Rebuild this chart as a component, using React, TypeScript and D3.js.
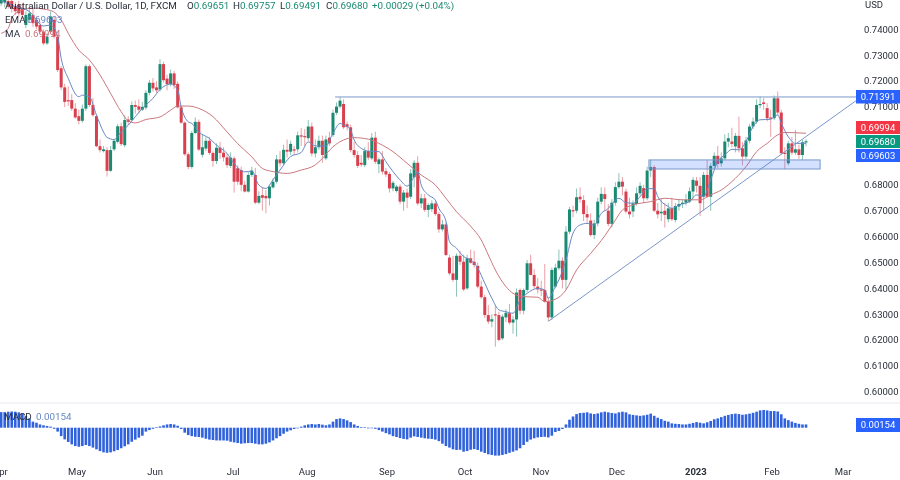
import React from "react";
import * as d3 from "d3";

// Prices in pips (1/10000), one entry per trading day from April 2022 to February 2023.
const opens = [
7500,7505,7510,7510,7490,7495,7482,7417,7437,7456,
7437,7417,7391,7346,7391,7437,7372,7250,7176,7127,
7127,7094,7065,7047,7094,7258,7108,7065,6949,6930,
6934,6854,6937,6966,7026,6953,7052,7050,7108,7103,
7090,7098,7155,7194,7176,7168,7266,7210,7189,7230,
7190,7099,7040,6918,6869,7000,7043,6916,6940,6970,
6923,6892,6943,6924,6906,6873,6902,6864,6857,6800,
6774,6838,6838,6731,6760,6757,6748,6790,6812,6898,
6883,6935,6928,6937,6937,6991,6988,6980,7025,6921,
6945,6970,6902,6982,6992,7078,7102,7112,7034,7022,
6934,6915,6885,6876,6930,6902,6982,6880,6898,6853,
6842,6786,6776,6793,6735,6770,6754,6829,6885,6728,
6748,6703,6706,6728,6687,6628,6647,6519,6458,6433,
6526,6503,6400,6516,6503,6487,6407,6366,6297,6272,
6300,6297,6207,6288,6304,6268,6280,6394,6314,6394,
6497,6452,6407,6396,6394,6349,6288,6407,6478,6507,
6433,6619,6702,6700,6754,6741,6687,6662,6606,6651,
6735,6764,6700,6649,6731,6791,6812,6774,6697,6697,
6726,6767,6787,6748,6855,6868,6700,6690,6700,6667,
6709,6664,6716,6726,6731,6735,6774,6816,6796,6754,
6838,6754,6873,6912,6883,6902,6967,6967,6948,6989,
6941,6909,6970,7025,7044,7108,7118,7096,7060,7057,
7134,7079,6924,6883,6960,6924,6937,6915,6965];
const highs = [
7540,7540,7525,7525,7505,7510,7495,7470,7478,7480,
7450,7430,7400,7385,7470,7450,7380,7258,7190,7180,
7150,7115,7090,7110,7265,7265,7135,7070,6975,6950,
6945,6950,6975,7035,7040,7068,7065,7122,7125,7130,
7120,7165,7205,7212,7200,7285,7275,7225,7245,7240,
7200,7105,7045,6925,7008,7060,7052,6995,6985,6985,
6930,6960,6965,6945,6920,6925,6910,6875,6870,6815,
6850,6870,6865,6775,6790,6780,6800,6825,6915,6930,
6955,6975,6970,6950,7005,7020,7015,7050,7040,6975,
6990,6990,6990,7005,7090,7118,7139,7130,7045,7032,
6965,6930,6915,6945,6965,7000,7005,6905,6930,6865,
6850,6815,6800,6802,6780,6785,6860,6895,6910,6765,
6765,6730,6740,6740,6695,6665,6655,6530,6525,6535,
6545,6530,6530,6550,6545,6500,6430,6375,6335,6300,
6335,6310,6300,6320,6340,6295,6400,6400,6400,6510,
6530,6475,6440,6430,6494,6365,6480,6495,6550,6520,
6640,6715,6720,6785,6790,6760,6720,6690,6665,6750,
6790,6790,6725,6745,6810,6845,6830,6785,6750,6740,
6790,6810,6800,6870,6896,6875,6730,6745,6730,6730,
6750,6730,6745,6745,6765,6790,6830,6830,6830,6850,
6895,6885,6925,6950,6925,6995,7000,7020,7000,7063,
6965,6985,7035,7060,7130,7140,7135,7115,7090,7145,
7160,7090,6945,6970,6985,7012,6955,6975,6976];
const lows = [
7490,7485,7480,7465,7455,7450,7440,7405,7425,7410,
7400,7380,7340,7340,7385,7365,7235,7165,7100,7105,
7085,7055,7033,7040,7085,7100,7063,6945,6925,6925,
6832,6850,6930,6960,6950,6945,7030,7045,7075,7075,
7085,7090,7145,7160,7155,7160,7195,7165,7180,7170,
7095,7035,6912,6860,6862,6995,6930,6905,6930,6915,
6870,6880,6900,6890,6865,6865,6770,6800,6775,6770,
6770,6830,6725,6725,6700,6690,6720,6785,6805,6870,
6875,6905,6915,6915,6925,6950,6950,6970,6910,6905,
6935,6885,6895,6950,6985,7070,7095,7015,7010,6925,
6905,6865,6870,6868,6895,6895,6880,6845,6840,6830,
6770,6775,6770,6725,6700,6710,6745,6790,6720,6710,
6695,6675,6695,6680,6615,6620,6525,6450,6425,6368,
6490,6390,6395,6495,6480,6400,6360,6285,6262,6250,
6175,6195,6200,6270,6260,6225,6214,6300,6300,6385,
6450,6400,6380,6370,6345,6273,6278,6400,6470,6400,
6395,6610,6675,6690,6730,6660,6650,6600,6590,6640,
6725,6700,6640,6635,6720,6785,6760,6690,6670,6675,
6720,6755,6730,6740,6830,6695,6670,6660,6635,6655,
6660,6655,6700,6710,6720,6730,6745,6770,6680,6700,
6750,6700,6860,6865,6870,6895,6945,6945,6925,6925,
6875,6900,6960,7015,7035,7095,7090,7045,6985,7050,
7070,6915,6860,6875,6915,6915,6900,6895,6949];
const closes = [
7520,7530,7490,7480,7470,7462,7456,7456,7462,7424,
7411,7391,7346,7372,7450,7372,7243,7176,7120,7122,
7094,7060,7047,7094,7258,7108,7069,6949,6934,6937,
6854,6934,6970,7026,6957,7050,7043,7108,7101,7090,
7101,7155,7194,7172,7165,7266,7204,7189,7230,7185,
7099,7040,6918,6869,7000,7043,6936,6945,6970,6923,
6892,6943,6923,6906,6876,6905,6812,6812,6800,6774,
6838,6855,6731,6757,6750,6748,6793,6812,6898,6883,
6935,6928,6958,6932,6991,6986,6984,7025,6921,6945,
6970,6915,6975,6960,7078,7102,7125,7022,7024,6934,
6915,6873,6878,6930,6905,6982,6889,6898,6851,6840,
6786,6808,6793,6735,6770,6750,6844,6885,6728,6748,
6703,6722,6728,6687,6628,6647,6529,6458,6433,6526,
6503,6396,6516,6499,6490,6407,6366,6297,6272,6281,
6297,6201,6291,6306,6268,6280,6384,6314,6394,6497,
6452,6409,6396,6394,6349,6288,6471,6480,6507,6433,
6619,6705,6698,6752,6744,6687,6674,6606,6651,6735,
6765,6745,6649,6731,6791,6812,6793,6697,6686,6729,
6767,6796,6748,6855,6868,6700,6686,6696,6684,6709,
6667,6718,6726,6731,6742,6775,6819,6796,6729,6838,
6754,6873,6912,6881,6902,6967,6980,6958,6989,6941,
6909,6971,7025,7044,7108,7112,7112,7057,7058,7134,
7079,6922,6919,6960,6924,6937,6915,6964,6968];

// EMA at selected bars.
const emaBars = [0,4,8,12,14,16,17,19,22,23,25,27,29,30,32,34,36,38,40,43,45,48,50,51,53,54,56,59,61,64,66,69,71,73,75,77,79,82,85,87,89,92,94,96,97,99,100,102,104,107,109,111,113,115,117,118,119,121,123,124,126,127,129,131,133,135,137,139,141,143,145,147,149,152,154,155,157,158,160,162,164,166,168,170,172,173,175,177,179,181,183,185,186,189,190,192,195,197,199,201,203,205,207,209,211,213,215,218,220,221,223,225,228];
const emaValues = [7510,7488,7469,7413,7417,7372,7288,7211,7140,7146,7140,7069,7004,6983,6975,7004,7030,7063,7095,7134,7168,7189,7166,7101,7043,7037,7004,6979,6953,6921,6882,6850,6853,6799,6786,6819,6857,6909,6925,6966,6950,6950,6999,7037,7031,7012,6973,6941,6930,6928,6889,6851,6819,6795,6831,6851,6799,6761,6741,6709,6660,6581,6555,6523,6510,6478,6420,6362,6317,6310,6304,6355,6381,6400,6394,6362,6407,6433,6510,6613,6645,6651,6645,6690,6709,6726,6748,6731,6729,6754,6785,6785,6755,6716,6709,6722,6735,6761,6755,6819,6890,6915,6937,6935,6967,7025,7051,7053,7070,7038,6985,6960,6960];

// Moving average at selected bars.
const maBars = [0,2,3,5,9,14,17,19,22,25,28,31,34,36,38,41,45,48,50,53,56,60,64,67,71,74,77,81,85,89,91,94,97,100,104,107,111,115,119,123,126,129,133,136,138,140,143,145,148,152,154,157,160,163,167,171,174,176,179,184,188,193,198,201,204,208,211,214,217,220,222,228];
const maValues = [7385,7404,7443,7469,7482,7473,7437,7385,7320,7282,7224,7153,7082,7047,7039,7052,7062,7088,7104,7104,7095,7063,7004,6959,6908,6863,6851,6844,6857,6877,6902,6947,6973,6982,6976,6960,6928,6883,6838,6799,6748,6696,6640,6587,6529,6471,6407,6381,6368,6366,6349,6358,6394,6471,6535,6603,6664,6703,6722,6735,6748,6742,6742,6761,6780,6825,6870,6928,6960,6993,7002,6999];

// MACD histogram in units of 0.0001, one entry per trading day.
const macdBars = [
72,72,74,75,74,71,65,55,43,28,
23,15,11,8,5,-5,-18,-39,-54,-66,
-77,-85,-88,-85,-80,-85,-92,-100,-108,-114,
-116,-114,-109,-103,-95,-86,-77,-65,-55,-46,
-37,-18,-11,-5,2,6,11,15,17,15,
9,-6,-23,-34,-39,-42,-43,-46,-51,-55,
-57,-59,-59,-59,-60,-65,-68,-71,-74,-72,
-71,-71,-74,-77,-77,-74,-68,-59,-49,-39,
-28,-18,-12,-6,-2,5,11,15,17,15,
17,14,11,15,28,40,43,40,34,26,
15,8,3,2,-3,-2,-5,-11,-18,-25,
-31,-39,-43,-48,-52,-54,-46,-40,-43,-46,
-49,-51,-52,-55,-62,-74,-85,-92,
-100,-103,-102,-111,-108,-102,-99,-103,-111,-117,-123,-126,-129,-129,-126,-122,-116,-111,-105,-95,-80,-65,-55,-49,-45,-43,-42,-45,-37,-20,-15,-6,15,37,52,63,68,69,71,66,63,66,71,74,71,68,66,71,74,71,62,59,57,55,57,60,65,55,46,40,32,28,20,18,17,15,15,18,22,26,23,20,25,31,39,43,49,55,59,63,65,63,60,62,65,69,74,80,82,80,77,77,75,62,43,35,28,22,18,15,15];

const monthLabels = ["Apr","May","Jun","Jul","Aug","Sep","Oct","Nov","Dec","2023","Feb","Mar"];
const monthBars = [-0.2,21.5,43.6,65.7,86.7,109.3,131.4,152.9,174.4,196.8,218.4,238.5];
// 0.70 and 0.69 sit behind the price badges in the picture.
const priceTicks = [0.74,0.73,0.72,0.71,0.68,0.67,0.66,0.65,0.64,0.63,0.62,0.61,0.60];

const resistance = 0.71391;
const trendBars = [155, 242.2];
const trendValues = [0.6273, 0.7125];
const zoneBars = [183.5, 232];
const zoneValues = [0.6896, 0.6861];
const lastClose = 0.6968, lastMa = 0.69994, lastEma = 0.69603, lastMacd = 0.00154;

const quote = [
  { t: "O0.69651", x: 187 }, { t: "H0.69757", x: 233 }, { t: "L0.69491", x: 280 },
  { t: "C0.69680", x: 326 }, { t: "+0.00029 (+0.04%)", x: 372 },
];

const UP = "#1b8a72", DOWN = "#d8404f", BLUE = "#2962ff", LINE = "#7a97c9";
const EMA_C = "#6688c4", MA_C = "#cc777e";
const FONT = "Roboto, 'Open Sans', sans-serif";
const INK = "#2a2e39";

const x = d3.scaleLinear().domain([0, 228]).range([1.16, 806]);
const y = d3.scaleLinear().domain([0.6, 0.74]).range([392, 29.4]);
const yM = d3.scaleLinear().domain([0, 0.0154]).range([427.7, 394.4]);
const pip = (p: number) => p / 10000;

const curve = (bars: number[], vals: number[]) =>
  d3.line<number>().x((d) => x(bars[d])).y((d) => y(pip(vals[d]))).curve(d3.curveMonotoneX)(d3.range(bars.length)) as string;

const Badge = ({ top, h, fill, label }: { top: number; h: number; fill: string; label: string }) => (
  <g>
    <rect x={856} y={top} width={44} height={h} fill={fill} />
    <text x={878} y={top + h / 2 + 3.2} textAnchor="middle" fill="#fff" fontSize={9.5} fontFamily={FONT}>{label}</text>
  </g>
);

export default function App() {
  const days = d3.range(opens.length);
  return (
    <svg width={900} height={480} style={{ position: "absolute", left: 0, top: 0, background: "#fff", filter: "blur(0.4px)" }}>
      <line x1={0} x2={900} y1={403} y2={403} stroke="#e6e8ee" />
      {priceTicks.map((t) => (
        <text key={t} x={864} y={y(t) + 3.2} fontSize={9.5} fill={INK} fontFamily={FONT}>{t.toFixed(5)}</text>
      ))}
      <text x={865} y={8} fontSize={9.5} fill={INK} fontFamily={FONT}>USD</text>

      {/* candles */}
      {days.map((i) => {
        const up = closes[i] >= opens[i];
        const c = up ? UP : DOWN;
        const top = y(pip(Math.max(opens[i], closes[i])));
        const bot = y(pip(Math.min(opens[i], closes[i])));
        return (
          <g key={i}>
            <line x1={x(i)} x2={x(i)} y1={y(pip(highs[i]))} y2={y(pip(lows[i]))} stroke={c} strokeOpacity={0.5} strokeWidth={1} />
            <rect x={x(i) - 1.5} width={3} y={top} height={Math.max(bot - top, 1.2)} fill={c} />
          </g>
        );
      })}

      <path d={curve(maBars, maValues)} fill="none" stroke={MA_C} strokeWidth={1} />
      <path d={curve(emaBars, emaValues)} fill="none" stroke={EMA_C} strokeWidth={1} />

      {/* drawings */}
      <line x1={x(94.6)} x2={857} y1={y(resistance)} y2={y(resistance)} stroke={LINE} strokeWidth={1} />
      <line x1={x(trendBars[0])} x2={x(trendBars[1])} y1={y(trendValues[0])} y2={y(trendValues[1])} stroke={LINE} strokeWidth={1} />
      <rect x={x(zoneBars[0])} width={x(zoneBars[1]) - x(zoneBars[0])} y={y(zoneValues[0])} height={y(zoneValues[1]) - y(zoneValues[0])}
        fill="#2962ff" fillOpacity={0.2} stroke={LINE} strokeWidth={1} />

      {/* MACD */}
      {macdBars.map((v, i) => {
        const val = v / 10000;
        return <rect key={i} x={x(i) - 1.3} width={2.6} y={Math.min(yM(val), yM(0))} height={Math.max(Math.abs(yM(val) - yM(0)), 0.6)} fill="#2f62dc" />;
      })}

      {/* legend */}
      <g fontFamily={FONT} fontSize={9.8}>
        <text x={5} y={9} fill={INK}>Australian Dollar / U.S. Dollar, 1D, FXCM</text>
        {quote.map((q) => (
          <text key={q.t} x={q.x} y={9} fill={UP}><tspan fill={INK}>{/^[OHLC]/.test(q.t) ? q.t[0] : ""}</tspan>{/^[OHLC]/.test(q.t) ? q.t.slice(1) : q.t}</text>
        ))}
        <text x={5} y={23} fill={INK}>EMA</text>
        <text x={27} y={23} fill={EMA_C}>{lastEma.toFixed(5)}</text>
        <text x={5} y={37} fill={INK}>MA</text>
        <text x={25} y={37} fill={MA_C}>{lastMa.toFixed(5)}</text>
        <text x={4} y={420} fill={INK}>MACD</text>
        <text x={36} y={420} fill={EMA_C}>{lastMacd.toFixed(5)}</text>
      </g>

      {/* month axis */}
      {monthLabels.map((m, i) => (
        <text key={m} x={x(monthBars[i])} y={475} textAnchor="middle" fontSize={9.5} fontFamily={FONT}
          fontWeight={m === "2023" ? 700 : 400} fill={INK}>{m}</text>
      ))}

      <Badge top={90} h={13.5} fill={BLUE} label={resistance.toFixed(5)} />
      <Badge top={121} h={13} fill="#f23645" label={lastMa.toFixed(5)} />
      <Badge top={135} h={13} fill="#089981" label={lastClose.toFixed(5)} />
      <Badge top={149} h={13} fill={BLUE} label={lastEma.toFixed(5)} />
      <Badge top={418} h={14} fill={BLUE} label={lastMacd.toFixed(5)} />
    </svg>
  );
}
